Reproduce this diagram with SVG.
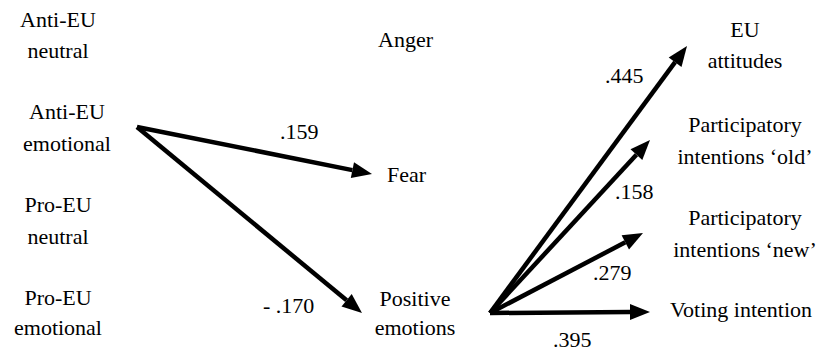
<svg xmlns="http://www.w3.org/2000/svg" width="840" height="351" viewBox="0 0 840 351">
<rect width="840" height="351" fill="#fff"/>
<g id="anti-neutral"><text x="58" y="27" text-anchor="middle" font-family="Liberation Serif" font-size="22">Anti-EU</text><text x="58" y="58" text-anchor="middle" font-family="Liberation Serif" font-size="22">neutral</text></g>
<g id="anti-emotional"><text x="67" y="119" text-anchor="middle" font-family="Liberation Serif" font-size="22">Anti-EU</text><text x="67" y="151" text-anchor="middle" font-family="Liberation Serif" font-size="22">emotional</text></g>
<g id="pro-neutral"><text x="58" y="212" text-anchor="middle" font-family="Liberation Serif" font-size="22">Pro-EU</text><text x="58" y="244" text-anchor="middle" font-family="Liberation Serif" font-size="22">neutral</text></g>
<g id="pro-emotional"><text x="58" y="305" text-anchor="middle" font-family="Liberation Serif" font-size="22">Pro-EU</text><text x="58" y="335" text-anchor="middle" font-family="Liberation Serif" font-size="22">emotional</text></g>
<g id="anger"><text x="378" y="47" font-family="Liberation Serif" font-size="22">Anger</text></g>
<g id="fear"><text x="387" y="182" font-family="Liberation Serif" font-size="22">Fear</text></g>
<g id="positive"><text x="415" y="306" text-anchor="middle" font-family="Liberation Serif" font-size="22">Positive</text><text x="415" y="335" text-anchor="middle" font-family="Liberation Serif" font-size="22">emotions</text></g>
<g id="eu-attitudes"><text x="745" y="37" text-anchor="middle" font-family="Liberation Serif" font-size="22">EU</text><text x="745" y="68" text-anchor="middle" font-family="Liberation Serif" font-size="22">attitudes</text></g>
<g id="part-old"><text x="745" y="132" text-anchor="middle" font-family="Liberation Serif" font-size="22">Participatory</text><text x="745" y="164" text-anchor="middle" font-family="Liberation Serif" font-size="22">intentions &#8216;old&#8217;</text></g>
<g id="part-new"><text x="745" y="225" text-anchor="middle" font-family="Liberation Serif" font-size="22">Participatory</text><text x="745" y="257" text-anchor="middle" font-family="Liberation Serif" font-size="22">intentions &#8216;new&#8217;</text></g>
<g id="voting"><text x="670" y="317" font-family="Liberation Serif" font-size="22">Voting intention</text></g>
<g id="connectors">
<g stroke="#000" stroke-width="4.5" fill="none">
<line x1="137" y1="127" x2="352.4" y2="170.1"/>
<line x1="137" y1="127" x2="346.6" y2="300.3"/>
<line x1="490" y1="313" x2="675.1" y2="62.1"/>
<line x1="490" y1="313" x2="636.4" y2="154.7"/>
<line x1="490" y1="313" x2="625.3" y2="242.3"/>
<line x1="490" y1="313" x2="630" y2="312.1"/>
</g>
<g fill="#000">
<polygon points="350.8,177.9 354.0,162.3 372,174"/>
<polygon points="341.5,306.5 351.7,294.1 362,313"/>
<polygon points="681.5,66.9 668.7,57.4 687,46"/>
<polygon points="642.3,160.1 630.5,149.3 650,140"/>
<polygon points="629.0,249.4 621.6,235.2 643,233"/>
<polygon points="630,320.1 630,304.1 650,312"/>
</g>
</g>
<g id="labels">
<text x="280" y="139" font-family="Liberation Serif" font-size="22">.159</text>
<text x="263" y="313" font-family="Liberation Serif" font-size="22">- .170</text>
<text x="605" y="83" font-family="Liberation Serif" font-size="22">.445</text>
<text x="615" y="199" font-family="Liberation Serif" font-size="22">.158</text>
<text x="593" y="280" font-family="Liberation Serif" font-size="22">.279</text>
<text x="553" y="347" font-family="Liberation Serif" font-size="22">.395</text>
</g>
</svg>
